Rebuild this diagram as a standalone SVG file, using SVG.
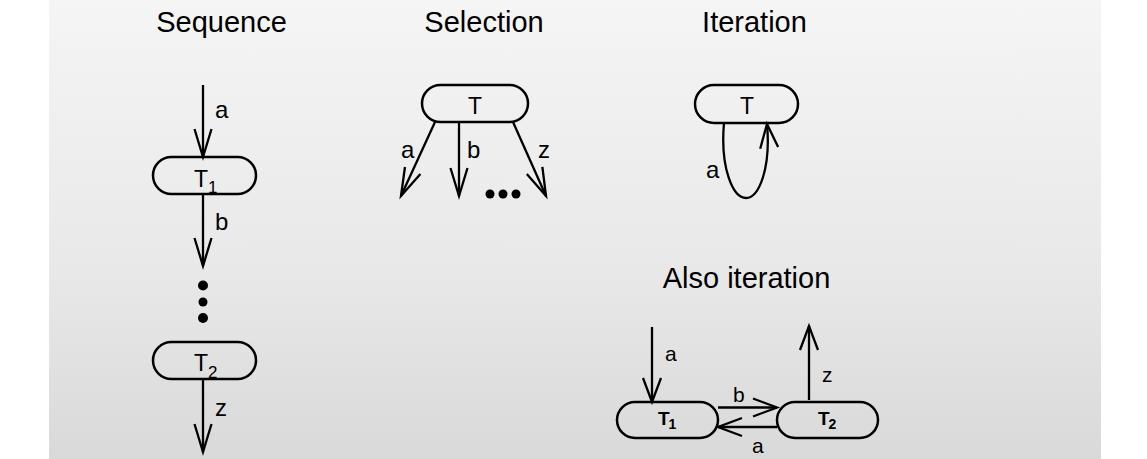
<svg xmlns="http://www.w3.org/2000/svg" width="1147" height="459" viewBox="0 0 1147 459">
  <defs>
    <linearGradient id="bg" x1="0" y1="0" x2="0" y2="1">
      <stop offset="0" stop-color="#f5f5f5"/>
      <stop offset="0.6" stop-color="#e8e8e8"/>
      <stop offset="1" stop-color="#d9d9d9"/>
    </linearGradient>
    <marker id="arr" markerUnits="userSpaceOnUse" orient="auto" markerWidth="40" markerHeight="30" refX="0" refY="0" viewBox="-30 -15 40 30" overflow="visible">
      <path d="M-28,-8.5 L0,0 L-28,8.5" fill="none" stroke="#000" stroke-width="2.3" stroke-linejoin="miter"/>
    </marker>
    <marker id="arrS" markerUnits="userSpaceOnUse" orient="auto" markerWidth="40" markerHeight="30" refX="0" refY="0" viewBox="-30 -15 40 30" overflow="visible">
      <path d="M-24,-9 L0,0 L-24,9" fill="none" stroke="#000" stroke-width="2.3" stroke-linejoin="miter"/>
    </marker>
  </defs>
  <style>
    .node { fill: none; stroke: #000; stroke-width: 2.5; }
    .edge { fill: none; stroke: #000; stroke-width: 2.3; }
    .title { font-family: "Liberation Sans", Arial, sans-serif; font-size: 29px; fill: #000; text-anchor: middle; }
    .lbl { font-family: "Liberation Sans", Arial, sans-serif; font-size: 24px; fill: #000; }
    .lbls { font-family: "Liberation Sans", Arial, sans-serif; font-size: 21px; fill: #000; }
    .nt { font-family: "Liberation Sans", Arial, sans-serif; font-size: 23px; fill: #000; }
    .nb { font-family: "Liberation Sans", Arial, sans-serif; font-size: 19px; font-weight: bold; fill: #000; }
    .dot { fill: #000; }
  </style>

  <rect x="49" y="0" width="1052" height="459" fill="url(#bg)"/>

  <g id="titles">
    <text class="title" x="221.5" y="32">Sequence</text>
    <text class="title" x="484" y="32">Selection</text>
    <text class="title" x="754.5" y="32">Iteration</text>
    <text class="title" x="746.5" y="288">Also iteration</text>
  </g>

  <g id="connectors">
    <!-- Sequence -->
    <line class="edge" x1="203" y1="85" x2="203" y2="157" marker-end="url(#arr)"/>
    <line class="edge" x1="203" y1="194" x2="203" y2="266" marker-end="url(#arr)"/>
    <line class="edge" x1="203" y1="379" x2="203" y2="452" marker-end="url(#arr)"/>
    <!-- Selection -->
    <line class="edge" x1="435" y1="122" x2="401" y2="196" marker-end="url(#arr)"/>
    <line class="edge" x1="459" y1="122" x2="459" y2="196" marker-end="url(#arr)"/>
    <line class="edge" x1="513" y1="122" x2="546" y2="196" marker-end="url(#arr)"/>
    <!-- Iteration loop -->
    <path class="edge" d="M724,123 C720,168 733,198 746,198 C759,198 771,168 767,124" marker-end="url(#arrS)"/>
    <!-- Also iteration -->
    <line class="edge" x1="652" y1="327" x2="652" y2="402" marker-end="url(#arrS)"/>
    <line class="edge" x1="809" y1="400" x2="809" y2="326" marker-end="url(#arrS)"/>
    <line class="edge" x1="718" y1="407.5" x2="777" y2="407.5" marker-end="url(#arrS)"/>
    <line class="edge" x1="777" y1="427" x2="718" y2="427" marker-end="url(#arrS)"/>
  </g>

  <g id="edge-labels">
    <text class="lbl" x="215" y="118">a</text>
    <text class="lbl" x="215" y="230">b</text>
    <text class="lbl" x="215" y="416">z</text>
    <text class="lbl" x="401" y="158">a</text>
    <text class="lbl" x="467" y="158">b</text>
    <text class="lbl" x="538" y="158">z</text>
    <text class="lbl" x="706" y="178">a</text>
    <text class="lbls" x="665" y="361">a</text>
    <text class="lbls" x="822" y="382">z</text>
    <text class="lbls" x="733" y="402">b</text>
    <text class="lbls" x="752" y="453">a</text>
  </g>

  <g id="seq-dots">
    <circle class="dot" cx="203" cy="285.5" r="5"/>
    <circle class="dot" cx="203" cy="302" r="4.5"/>
    <circle class="dot" cx="203" cy="318" r="5"/>
  </g>
  <g id="sel-dots">
    <circle class="dot" cx="490" cy="194" r="4.5"/>
    <circle class="dot" cx="503" cy="194" r="4.5"/>
    <circle class="dot" cx="516" cy="194" r="4.5"/>
  </g>

  <g id="seq-T1">
    <rect class="node" x="153" y="157" width="103" height="37" rx="18.5"/>
    <text class="nt" x="194" y="187">T<tspan dy="6" font-size="17">1</tspan></text>
  </g>
  <g id="seq-T2">
    <rect class="node" x="153" y="342" width="103" height="37" rx="18.5"/>
    <text class="nt" x="194" y="371">T<tspan dy="7" font-size="17">2</tspan></text>
  </g>
  <g id="sel-T">
    <rect class="node" x="422" y="85" width="106" height="37" rx="18.5"/>
    <text class="nt" x="475" y="114" text-anchor="middle">T</text>
  </g>
  <g id="iter-T">
    <rect class="node" x="695" y="85" width="103" height="38" rx="19"/>
    <text class="nt" x="747" y="114" text-anchor="middle">T</text>
  </g>
  <g id="also-T1">
    <rect class="node" x="617" y="402" width="101" height="36" rx="18"/>
    <text class="nb" x="658" y="425">T<tspan dx="-1" dy="4" font-size="14">1</tspan></text>
  </g>
  <g id="also-T2">
    <rect class="node" x="777" y="402" width="101" height="36" rx="18"/>
    <text class="nb" x="818" y="425">T<tspan dx="-1" dy="4" font-size="14">2</tspan></text>
  </g>
</svg>
